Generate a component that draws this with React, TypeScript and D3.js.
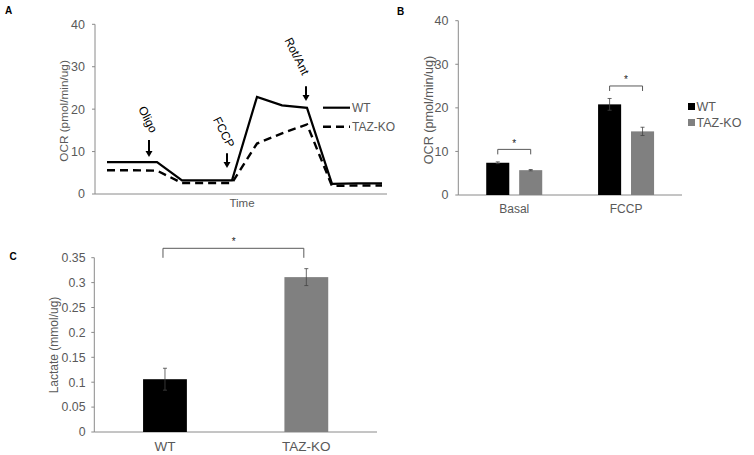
import React from "react";
import * as d3 from "d3";

// ---------- Panel A data ----------
const timePoints = [1, 2, 3, 4, 5, 6, 7, 8, 9, 10, 11, 12];
const wtOCR = [7.5, 7.5, 7.5, 3.2, 3.2, 3.2, 22.9, 20.9, 20.3, 2.4, 2.5, 2.5];
const tazOCR = [5.6, 5.6, 5.5, 2.6, 2.6, 2.6, 11.9, 14.3, 16.4, 1.9, 2.0, 2.0];
const ticksA = [0, 10, 20, 30, 40];
const injections = [
  { label: "Oligo", at: 2.68, tip: 8.7, top: 12.7, tx: 2.64, ty: 17.6 },
  { label: "FCCP", at: 5.8, tip: 6.1, top: 9.6, tx: 5.68, ty: 14.6 },
  { label: "Rot/Ant", at: 8.96, tip: 21.9, top: 25.4, tx: 8.6, ty: 32.5 },
];

// ---------- Panel B data ----------
const groupsB = ["Basal", "FCCP"];
const seriesB = ["WT", "TAZ-KO"];
const wtB = [7.4, 20.8];
const tazB = [5.7, 14.6];
const wtBErr = [0.2, 1.35];
const tazBErr = [0.15, 0.95];
const ticksB = [0, 10, 20, 30, 40];

// ---------- Panel C data ----------
const groupsC = ["WT", "TAZ-KO"];
const lactate = [0.106, 0.311];
const lactateErr = [0.022, 0.017];
const ticksC = [0, 0.05, 0.1, 0.15, 0.2, 0.25, 0.3, 0.35];

const FONT = "'Liberation Sans', Arial, sans-serif";
const TXT = "#595959";
const AX = "#8a8a8a";
const GREY = "#808080";

function Arrow({ x, y1, y2 }: { x: number; y1: number; y2: number }) {
  return (
    <g>
      <line x1={x} x2={x} y1={y1} y2={y2 - 5} stroke="#000" strokeWidth={2} />
      <path d={`M${x - 3.5},${y2 - 6} L${x + 3.5},${y2 - 6} L${x},${y2} Z`} fill="#000" />
    </g>
  );
}

function PanelA() {
  const x = d3.scaleLinear().domain([1, 12]).range([107, 382]);
  const y = d3.scaleLinear().domain([0, 40]).range([194, 24.3]);
  const line = d3
    .line<number>()
    .x((_, i) => x(timePoints[i]))
    .y((d) => y(d));
  return (
    <g fontFamily={FONT}>
      <text x={5} y={13.5} fontSize={10} fontWeight="bold" fill="#000">A</text>
      <line x1={95} x2={95} y1={y(40)} y2={y(0)} stroke={AX} strokeWidth={1} />
      <line x1={95} x2={387} y1={y(0)} y2={y(0)} stroke={AX} strokeWidth={1} />
      {ticksA.map((t) => (
        <g key={t}>
          <line x1={92} x2={95} y1={y(t)} y2={y(t)} stroke={AX} />
          <text x={85} y={y(t)} dy="0.35em" textAnchor="end" fontSize={12.5} fill={TXT}>{t}</text>
        </g>
      ))}
      <text transform={`translate(63.5,111) rotate(-90)`} textAnchor="middle" fontSize={11.8} fill={TXT} dy="0.35em">
        OCR (pmol/min/ug)
      </text>
      <text x={242} y={207} textAnchor="middle" fontSize={11.5} fill={TXT}>Time</text>
      <path d={line(wtOCR) || ""} fill="none" stroke="#000" strokeWidth={2.2} />
      <path d={line(tazOCR) || ""} fill="none" stroke="#000" strokeWidth={2.4} strokeDasharray="8,5" />
      {injections.map((inj) => (
        <g key={inj.label}>
          <Arrow x={x(inj.at)} y1={y(inj.top)} y2={y(inj.tip)} />
          <text
            transform={`translate(${x(inj.tx)},${y(inj.ty)}) rotate(63)`}
            textAnchor="middle"
            dy="0.35em"
            fontSize={12}
            fill="#000"
          >
            {inj.label}
          </text>
        </g>
      ))}
      <line x1={323} x2={350} y1={107.7} y2={107.7} stroke="#000" strokeWidth={2.2} />
      <text x={352} y={112} fontSize={12} fill={TXT}>WT</text>
      <line x1={323} x2={350} y1={126.7} y2={126.7} stroke="#000" strokeWidth={2.4} strokeDasharray="8,5" />
      <text x={352} y={131} fontSize={12} fill={TXT}>TAZ-KO</text>
    </g>
  );
}

function PanelB() {
  const x0 = d3.scaleBand().domain(groupsB).range([458.3, 682]).paddingInner(0).paddingOuter(0);
  const x1 = d3.scaleBand().domain(seriesB).range([0, 56]).paddingInner(0.3);
  const y = d3.scaleLinear().domain([0, 40]).range([195, 20.7]);
  const vals = [wtB, tazB];
  const errs = [wtBErr, tazBErr];
  const colors = ["#000", GREY];
  return (
    <g fontFamily={FONT}>
      <text x={397} y={15} fontSize={10} fontWeight="bold" fill="#000">B</text>
      <line x1={458.3} x2={458.3} y1={y(40)} y2={y(0)} stroke={AX} />
      <line x1={458.3} x2={682} y1={y(0)} y2={y(0)} stroke={AX} />
      {ticksB.map((t) => (
        <g key={t}>
          <line x1={455.3} x2={458.3} y1={y(t)} y2={y(t)} stroke={AX} />
          <text x={448.5} y={y(t)} dy="0.35em" textAnchor="end" fontSize={12.5} fill={TXT}>{t}</text>
        </g>
      ))}
      <text transform={`translate(428.5,110) rotate(-90)`} textAnchor="middle" dy="0.35em" fontSize={12.6} fill={TXT}>
        OCR (pmol/min/ug)
      </text>
      {groupsB.map((g, gi) => {
        const cx = x0(g)! + x0.bandwidth() / 2;
        const left = cx - 28;
        const barX = (s: string) => left + x1(s)!;
        const topY = Math.min(y(wtB[gi] + wtBErr[gi]), y(tazB[gi] + tazBErr[gi]));
        const bY = topY - 12.5;
        const xa = barX("WT") + x1.bandwidth() / 2;
        const xb = barX("TAZ-KO") + x1.bandwidth() / 2;
        return (
          <g key={g}>
            {seriesB.map((s, si) => {
              const bx = barX(s);
              const v = vals[si][gi];
              const e = errs[si][gi];
              const c = bx + x1.bandwidth() / 2;
              return (
                <g key={s}>
                  <rect x={bx} y={y(v)} width={x1.bandwidth()} height={y(0) - y(v)} fill={colors[si]} />
                  <line x1={c} x2={c} y1={y(v + e)} y2={y(v - e)} stroke="#444" strokeWidth={0.8} />
                  <line x1={c - 2} x2={c + 2} y1={y(v + e)} y2={y(v + e)} stroke="#444" strokeWidth={0.8} />
                  <line x1={c - 2} x2={c + 2} y1={y(v - e)} y2={y(v - e)} stroke="#444" strokeWidth={0.8} />
                </g>
              );
            })}
            <path d={`M${xa},${bY + 5} V${bY} H${xb} V${bY + 5}`} fill="none" stroke={TXT} strokeWidth={1} />
            <text x={(xa + xb) / 2} y={bY - 2.5} textAnchor="middle" fontSize={10} fill="#222">*</text>
            <text x={cx} y={213} textAnchor="middle" fontSize={12} fill={TXT}>{g}</text>
          </g>
        );
      })}
      {seriesB.map((s, si) => (
        <g key={s}>
          <rect x={688} y={103 + si * 16} width={7} height={7} fill={colors[si]} />
          <text x={696.5} y={111 + si * 16} fontSize={12.5} fill={TXT}>{s}</text>
        </g>
      ))}
    </g>
  );
}

function PanelC() {
  const x = d3.scaleBand().domain(groupsC).range([94.3, 377]).paddingInner(0.69).paddingOuter(0.345);
  const y = d3.scaleLinear().domain([0, 0.35]).range([432, 257.7]);
  const colors = ["#000", GREY];
  const cxs = groupsC.map((g) => x(g)! + x.bandwidth() / 2);
  const bY = 248.3;
  return (
    <g fontFamily={FONT}>
      <text x={9.5} y={260} fontSize={10} fontWeight="bold" fill="#000">C</text>
      <line x1={94.3} x2={94.3} y1={y(0.35)} y2={y(0)} stroke={AX} />
      <line x1={94.3} x2={377} y1={y(0)} y2={y(0)} stroke={AX} />
      {ticksC.map((t) => (
        <g key={t}>
          <line x1={91.3} x2={94.3} y1={y(t)} y2={y(t)} stroke={AX} />
          <text x={85.5} y={y(t)} dy="0.35em" textAnchor="end" fontSize={12.3} fill={TXT}>{String(t)}</text>
        </g>
      ))}
      <text transform={`translate(53.5,345) rotate(-90)`} textAnchor="middle" dy="0.35em" fontSize={12} fill={TXT}>
        Lactate (mmol/ug)
      </text>
      {groupsC.map((g, i) => {
        const v = lactate[i];
        const e = lactateErr[i];
        const c = cxs[i];
        return (
          <g key={g}>
            <rect x={x(g)} y={y(v)} width={x.bandwidth()} height={y(0) - y(v)} fill={colors[i]} />
            <line x1={c} x2={c} y1={y(v + e)} y2={y(v - e)} stroke="#444" strokeWidth={0.8} />
            <line x1={c - 2} x2={c + 2} y1={y(v + e)} y2={y(v + e)} stroke="#444" strokeWidth={0.8} />
            <line x1={c - 2} x2={c + 2} y1={y(v - e)} y2={y(v - e)} stroke="#444" strokeWidth={0.8} />
            <text x={c} y={451} textAnchor="middle" fontSize={13.5} fill={TXT}>{g}</text>
          </g>
        );
      })}
      <path d={`M${cxs[0] - 2},${bY + 9.5} V${bY} H${cxs[1] - 2.5} V${bY + 9.5}`} fill="none" stroke={TXT} strokeWidth={1} />
      <text x={(cxs[0] + cxs[1]) / 2 - 2} y={bY - 3} textAnchor="middle" fontSize={10} fill="#222">*</text>
    </g>
  );
}

export default function App() {
  return (
    <svg width={754} height={455} style={{ position: "absolute", left: 0, top: 0, background: "#fff" }}>
      <rect width={754} height={455} fill="#fff" />
      <PanelA />
      <PanelB />
      <PanelC />
    </svg>
  );
}
